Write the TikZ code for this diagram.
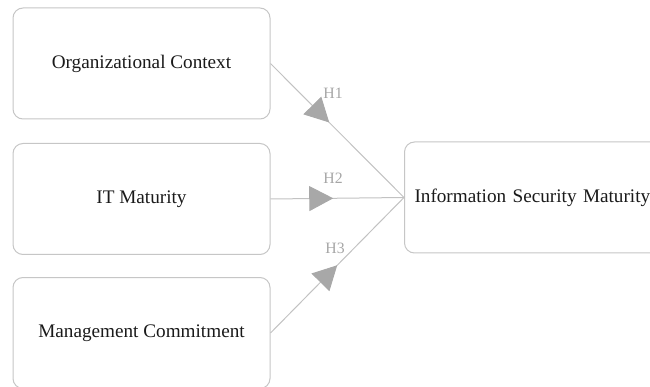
\documentclass[tikz,border=0pt]{standalone}
\usepackage{fontspec}
\setmainfont{Liberation Serif}
\usetikzlibrary{arrows.meta,decorations.markings}
\definecolor{boxline}{HTML}{C6C6C6}
\definecolor{conline}{HTML}{C2C2C2}
\definecolor{tipfill}{HTML}{A8A8A8}
\definecolor{labgray}{HTML}{A6A6A6}
\definecolor{txt}{HTML}{1A1A1A}
\tikzset{
  boxnode/.style={draw=boxline, line width=1pt, rounded corners=10pt, fill=white,
    minimum width=257pt, minimum height=111pt, inner sep=0pt,
    font=\fontsize{19.2pt}{23pt}\selectfont, text=txt},
  hyplabel/.style={font=\fontsize{15.8pt}{18pt}\selectfont, text=labgray, inner sep=0pt},
  conn/.style={draw=conline, line width=1pt, postaction={decorate},
    decoration={markings, mark=at position #1 with {\arrow{Triangle[length=24pt,width=25pt,fill=tipfill,color=tipfill]}}}}
}
\begin{document}
\begin{tikzpicture}[x=1pt,y=-1pt]
\useasboundingbox (0,0) rectangle (650,387);
\begin{scope}
\clip (0,0) rectangle (650,387);
\node[boxnode] (oc) at (141.5,63.5) {Organizational Context};
\node[boxnode] (it) at (141.5,199) {IT Maturity};
\node[boxnode] (mc) at (141.5,333) {Management Commitment};
\node[boxnode, minimum width=260pt, text width=260pt, align=left] (ism) at (534.5,197.5) {\hspace*{10pt}Information Security Maturity};
\draw[conn=0.44] (oc.east) -- (ism.west);
\draw[conn=0.47] (it.east) -- (ism.west);
\draw[conn=0.50] (mc.east) -- (ism.west);
\node[hyplabel] (h1) at (333,93) {H1};
\node[hyplabel] (h2) at (333,178) {H2};
\node[hyplabel] (h3) at (335,248) {H3};
\end{scope}
\end{tikzpicture}
\end{document}
